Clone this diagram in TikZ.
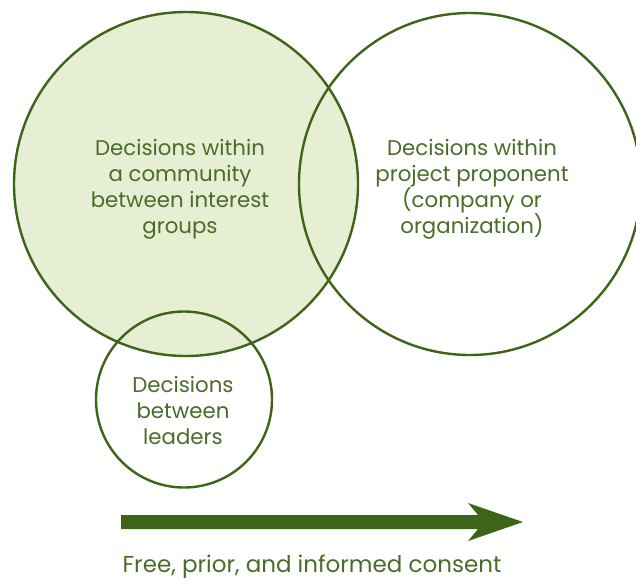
\documentclass[tikz,border=0pt]{standalone}
\usepackage{fontspec}
\setmainfont{Poppins}
\definecolor{lineg}{RGB}{62,100,26}
\definecolor{textg}{RGB}{74,108,40}
\definecolor{fillg}{RGB}{230,239,211}
\begin{document}
\begin{tikzpicture}[x=1pt,y=-1pt,
  ring/.style={circle, draw=lineg, line width=2.4pt, inner sep=0pt},
  lbl/.style={text=textg, align=center, font=\fontsize{21.3}{26}\selectfont, inner sep=0pt}]
\useasboundingbox (0,0) rectangle (636,581);
\clip (0,0) rectangle (636,581);
\node[ring, fill=fillg, minimum size=344pt] (comm) at (186,184) {};
\node[ring, minimum size=342pt] (proj) at (470,184) {};
\node[ring, minimum size=176pt] (lead) at (184,399.5) {};
\node[lbl] (tcomm) at (180,189.5) {Decisions within\\a community\\between interest\\groups};
\node[lbl] (tproj) at (472,189.5) {Decisions within\\project proponent\\(company or\\organization)};
\node[lbl] (tlead) at (183,410.5) {Decisions\\between\\leaders};
\coordinate (a0) at (121,522);
\coordinate (a1) at (523,522);
\fill[lineg] (a0) ++(0,-7) -- ++(357,0) -- ++(-10,-12) -- (a1) -- ++(-55,19) -- ++(10,-12) -- ++(-357,0) -- cycle;
\node[lbl, font=\fontsize{23}{28}\selectfont] (fpic) at (312,566.5) {Free, prior, and informed consent};
\end{tikzpicture}
\end{document}
